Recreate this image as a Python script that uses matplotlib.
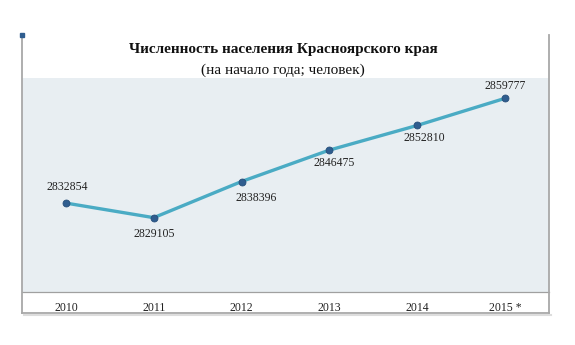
import matplotlib.pyplot as plt
from matplotlib.lines import Line2D

years = ["2010", "2011", "2012", "2013", "2014", "2015 *"]
population = [2832854, 2829105, 2838396, 2846475, 2852810, 2859777]

# label offsets in pixels (dx, dy), y pointing up
label_offsets = [(1, 16), (0, -16), (15, -16), (5, -13), (7, -13), (0, 12)]

plt.rcParams["font.family"] = ["Liberation Serif", "DejaVu Serif"]

W, H = 575, 345
fig = plt.figure(figsize=(W / 100, H / 100), dpi=100)
fig.patch.set_facecolor("white")


def fx(px):
    return px / W


def fy(py):
    return 1 - py / H


ax = fig.add_axes([fx(22), fy(292), fx(549) - fx(22), fy(78) - fy(292)])
ax.set_facecolor("#e8eef2")

x = list(range(len(years)))
ax.plot(x, population, color="#4aabc4", lw=2.4, zorder=2, solid_capstyle="round")
ax.plot(x, population, "o", ms=5, color="#2f5d8f", mec="#274e7a", mew=0.6, zorder=3)

for xi, v, (dx, dy) in zip(x, population, label_offsets):
    ax.annotate(str(v), (xi, v), xytext=(dx * 0.72, dy * 0.72), textcoords="offset points",
                ha="center", va="center", fontsize=8.5, color="#222222")

ax.set_xlim(-0.5, 5.5)
ax.set_ylim(2810000, 2865000)
ax.set_yticks([])
ax.set_xticks(x)
ax.set_xticklabels(years, fontsize=8.5, color="#222222")
ax.tick_params(axis="x", length=0, pad=7)
for s in ["top", "left", "right"]:
    ax.spines[s].set_visible(False)
ax.spines["bottom"].set_color("#a0a0a0")
ax.spines["bottom"].set_linewidth(0.9)

# outer frame: left, right and bottom edges
frame_color = "#a8a8a8"
fig.add_artist(Line2D([fx(22), fx(22)], [fy(35), fy(313)], color=frame_color, lw=1.3))
fig.add_artist(Line2D([fx(549), fx(549)], [fy(35), fy(313)], color=frame_color, lw=1.3))
fig.add_artist(Line2D([fx(22), fx(549)], [fy(313), fy(313)], color=frame_color, lw=1.3))
fig.add_artist(Line2D([fx(24), fx(551)], [fy(315), fy(315)], color="#dddddd", lw=1.5))
fig.add_artist(Line2D([fx(22)], [fy(35)], marker="s", ms=3.5, color="#2f5d8f"))

fig.text(fx(283), fy(50), "Численность населения Красноярского края", ha="center", va="center",
         fontsize=11, fontweight="bold", color="#111111")
fig.text(fx(283), fy(70), "(на начало года; человек)", ha="center", va="center",
         fontsize=11, color="#111111")

fig.savefig("out.png", dpi=100)
